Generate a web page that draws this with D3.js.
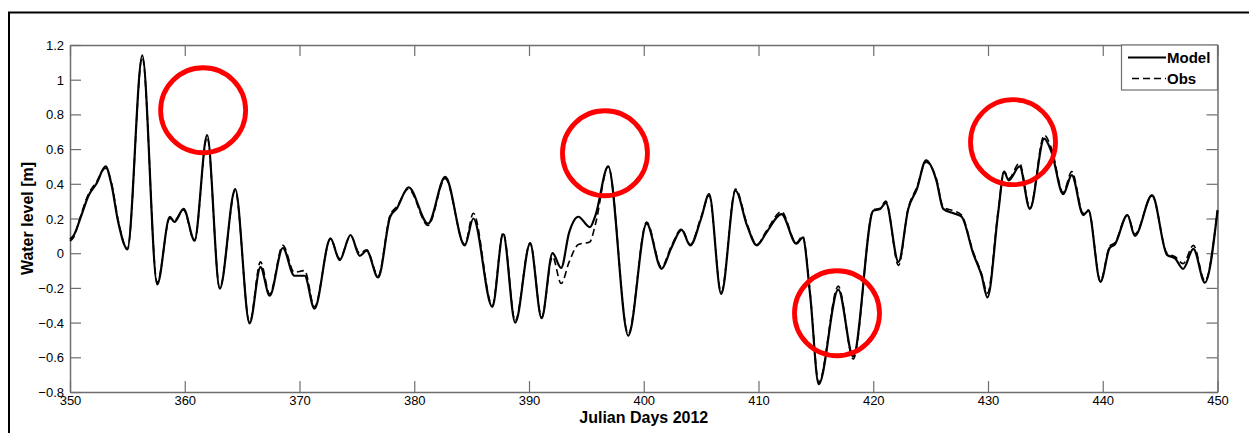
<!DOCTYPE html>
<html>
<head>
<meta charset="utf-8">
<script src="https://cdn.jsdelivr.net/npm/d3@7/dist/d3.min.js"></script>
<style>
  html, body { margin: 0; padding: 0; background: #fff; }
  svg { display: block; }
  text { font-family: "Liberation Sans", Arial, Helvetica, sans-serif; }
</style>
</head>
<body>
<svg id="chart" width="1249" height="433"></svg>
<script>
// Julian day of each sample (2012)
const days = [
  350.0, 350.3, 351.0, 351.6, 352.3, 353.1, 353.6, 354.2, 355.0, 356.3,
  357.6, 358.7, 359.1, 359.9, 360.85, 361.95, 363.05, 364.4, 365.65, 366.6,
  367.4, 368.55, 369.55, 370.45, 371.3, 372.7, 373.5, 374.45, 375.25, 375.85,
  376.85, 377.9, 378.5, 379.5, 381.2, 382.7, 384.4, 385.15, 386.8, 387.75,
  388.8, 390.1, 391.1, 392.05, 392.8, 393.5, 394.3, 395.3, 395.8, 396.9,
  398.65, 400.25, 401.55, 402.4, 403.3, 404.05, 405.0, 405.7, 406.75, 408.0,
  409.0, 409.85, 410.7, 412.0, 413.3, 413.85, 414.5, 415.25, 416.95, 418.25,
  420.0, 420.6, 421.1, 422.2, 423.05, 423.8, 424.6, 425.5, 426.1, 427.0,
  427.7, 428.7, 429.45, 429.95, 430.9, 431.4, 431.8, 432.75, 433.65, 434.9,
  435.55, 436.55, 437.3, 438.3, 438.75, 439.8, 440.6, 441.05, 442.15, 442.8,
  444.3, 445.6, 446.3, 447.0, 447.9, 448.9, 450.0
];

// Modelled water level [m]
const model = [
  0.08, 0.10, 0.22, 0.33, 0.40, 0.50, 0.40, 0.18, 0.025, 1.14,
  -0.18, 0.21, 0.18, 0.255, 0.075, 0.68, -0.205, 0.37, -0.405, -0.08,
  -0.245, 0.03, -0.13, -0.13, -0.32, 0.085, -0.04, 0.105, -0.015, 0.015,
  -0.14, 0.21, 0.26, 0.38, 0.17, 0.44, 0.045, 0.20, -0.31, 0.11,
  -0.40, 0.055, -0.375, 0.0, -0.085, 0.12, 0.21, 0.15, 0.22, 0.50,
  -0.475, 0.17, -0.09, 0.03, 0.135, 0.045, 0.20, 0.34, -0.235, 0.36,
  0.16, 0.045, 0.12, 0.225, 0.055, 0.09, -0.24, -0.755, -0.21, -0.595,
  0.245, 0.255, 0.29, -0.05, 0.255, 0.37, 0.535, 0.42, 0.255, 0.23,
  0.21, 0.0, -0.13, -0.255, 0.24, 0.47, 0.42, 0.50, 0.255, 0.66,
  0.58, 0.34, 0.45, 0.22, 0.245, -0.165, 0.03, 0.05, 0.22, 0.10,
  0.335, -0.01, -0.03, -0.09, 0.025, -0.17, 0.245
];

// Observed water level [m]
const obs = [
  0.07, 0.09, 0.23, 0.34, 0.41, 0.49, 0.41, 0.19, 0.02, 1.13,
  -0.17, 0.20, 0.19, 0.25, 0.07, 0.67, -0.20, 0.36, -0.40, -0.05,
  -0.235, 0.045, -0.11, -0.10, -0.31, 0.08, -0.03, 0.10, 0.0, 0.02,
  -0.13, 0.22, 0.27, 0.37, 0.16, 0.43, 0.05, 0.23, -0.30, 0.12,
  -0.39, 0.06, -0.37, -0.02, -0.175, -0.05, 0.05, 0.065, 0.17, 0.50,
  -0.465, 0.18, -0.08, 0.04, 0.14, 0.05, 0.21, 0.33, -0.225, 0.37,
  0.17, 0.05, 0.13, 0.24, 0.06, 0.10, -0.23, -0.745, -0.19, -0.61,
  0.25, 0.26, 0.30, -0.07, 0.26, 0.38, 0.525, 0.43, 0.265, 0.245,
  0.22, 0.01, -0.12, -0.23, 0.25, 0.47, 0.43, 0.52, 0.26, 0.68,
  0.60, 0.35, 0.47, 0.23, 0.25, -0.16, 0.04, 0.06, 0.22, 0.11,
  0.33, 0.0, -0.02, -0.06, 0.045, -0.16, 0.25
];

const xTicks = [350, 360, 370, 380, 390, 400, 410, 420, 430, 440, 450];
const yTicks = [-0.8, -0.6, -0.4, -0.2, 0, 0.2, 0.4, 0.6, 0.8, 1, 1.2];

// Highlighted events: centre [day, water level]
const highlights = [
  [361.6, 0.824],
  [396.62, 0.576],
  [416.84, -0.346],
  [432.18, 0.64]
];

const svg = d3.select("#chart");
const W = 1249, H = 433;
const plot = { left: 70, right: 1217.5, top: 45, bottom: 392 };

const x = d3.scaleLinear().domain([350, 450]).range([plot.left, plot.right]);
const y = d3.scaleLinear().domain([-0.8, 1.2]).range([plot.bottom, plot.top]);

// outer figure frame (runs off the right and bottom edges)
svg.append("rect")
  .attr("x", 9).attr("y", 12.5)
  .attr("width", W + 20).attr("height", H + 20)
  .attr("fill", "none").attr("stroke", "#000").attr("stroke-width", 2);

const axisColor = "#6e6e6e";
const tickLen = 11;

// axes with inward ticks on all four sides
const gx = svg.append("g").attr("transform", `translate(0,${plot.bottom})`)
  .call(d3.axisBottom(x).tickValues(xTicks).tickSizeInner(-tickLen).tickSizeOuter(0).tickPadding(5)
        .tickFormat(d3.format("d")));
const gxTop = svg.append("g").attr("transform", `translate(0,${plot.top})`)
  .call(d3.axisTop(x).tickValues(xTicks).tickSizeInner(-tickLen).tickSizeOuter(0).tickFormat(""));
const gy = svg.append("g").attr("transform", `translate(${plot.left},0)`)
  .call(d3.axisLeft(y).tickValues(yTicks).tickSizeInner(-tickLen).tickSizeOuter(0).tickPadding(6)
        .tickFormat(d => d3.format("~g")(d)));
const gyRight = svg.append("g").attr("transform", `translate(${plot.right},0)`)
  .call(d3.axisRight(y).tickValues(yTicks).tickSizeInner(-tickLen).tickSizeOuter(0).tickFormat(""));

[gx, gxTop, gy, gyRight].forEach(g => {
  g.select(".domain").attr("stroke", axisColor).attr("stroke-width", 1.5);
  g.selectAll(".tick line").attr("stroke", axisColor).attr("stroke-width", 1.2);
  g.selectAll(".tick text").attr("fill", "#000")
    .style("font-family", "'Liberation Sans', Arial, sans-serif")
    .style("font-size", "13px");
});
gx.selectAll(".tick text").attr("dy", "0.6em");
gy.selectAll(".tick text").attr("dy", "0.35em");

// water level curves
const line = d3.line()
  .x(d => x(d[0]))
  .y(d => y(d[1]))
  .curve(d3.curveMonotoneX);

const plotG = svg.append("g");
plotG.append("path")
  .datum(days.map((d, i) => [d, obs[i]]))
  .attr("d", line)
  .attr("fill", "none").attr("stroke", "#000")
  .attr("stroke-width", 1.6).attr("stroke-dasharray", "7,4");
plotG.append("path")
  .datum(days.map((d, i) => [d, model[i]]))
  .attr("d", line)
  .attr("fill", "none").attr("stroke", "#000")
  .attr("stroke-width", 2.2);

// highlight circles
svg.append("g").selectAll("circle").data(highlights).join("circle")
  .attr("cx", d => x(d[0])).attr("cy", d => y(d[1]))
  .attr("r", 42.5)
  .attr("fill", "none").attr("stroke", "#ff0000").attr("stroke-width", 4.8);

// legend
const lg = svg.append("g");
lg.append("rect")
  .attr("x", 1121.5).attr("y", 45).attr("width", plot.right - 1121.5).attr("height", 45)
  .attr("fill", "#fff").attr("stroke", axisColor).attr("stroke-width", 1.2);
const legendItems = [
  { label: "Model", dash: null, w: 2.2, y: 57.5, x1: 1128, x2: 1166 },
  { label: "Obs", dash: "7,4", w: 1.6, y: 78.5, x1: 1132, x2: 1166 }
];
legendItems.forEach(it => {
  lg.append("line")
    .attr("x1", it.x1).attr("x2", it.x2).attr("y1", it.y).attr("y2", it.y)
    .attr("stroke", "#000").attr("stroke-width", it.w)
    .attr("stroke-dasharray", it.dash);
  lg.append("text")
    .attr("x", 1167).attr("y", it.y + 5.5)
    .attr("font-size", 15).attr("font-weight", "bold")
    .text(it.label);
});

// axis titles
svg.append("text")
  .attr("x", (plot.left + plot.right) / 2).attr("y", 423)
  .attr("text-anchor", "middle")
  .attr("font-size", 16).attr("font-weight", "bold")
  .text("Julian Days 2012");
svg.append("text")
  .attr("transform", `translate(33,${(plot.top + plot.bottom) / 2}) rotate(-90)`)
  .attr("text-anchor", "middle")
  .attr("font-size", 16).attr("font-weight", "bold")
  .text("Water level [m]");
</script>
</body>
</html>
